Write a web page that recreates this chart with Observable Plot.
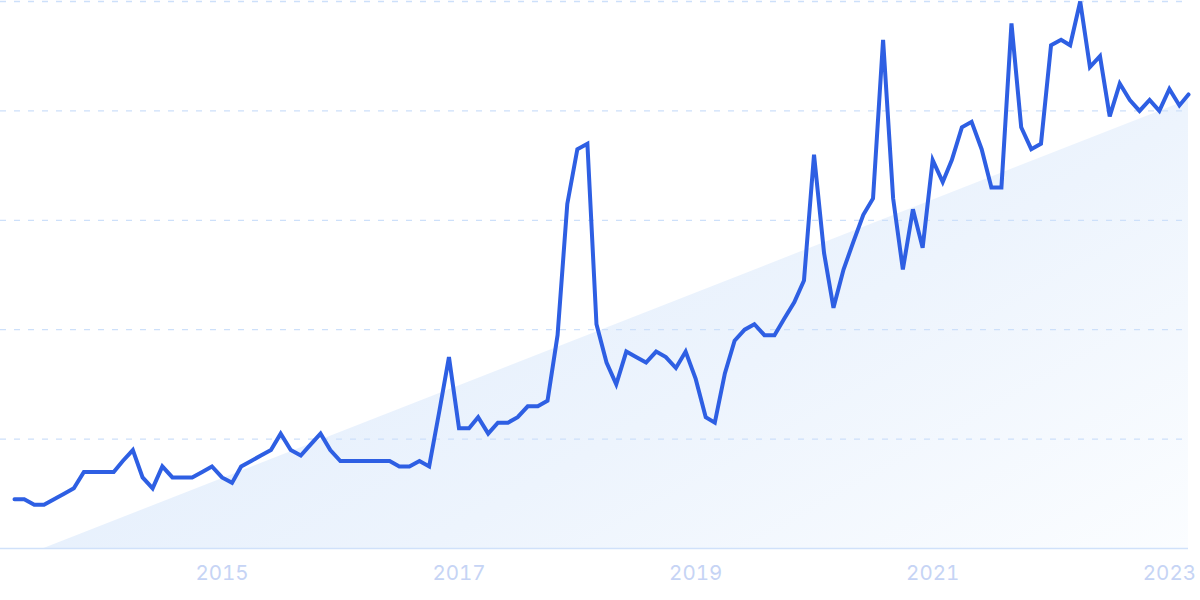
<!DOCTYPE html>
<html>
<head>
<meta charset="utf-8">
<script src="https://cdn.jsdelivr.net/npm/d3@7"></script>
<script src="https://cdn.jsdelivr.net/npm/@observablehq/plot@0.6"></script>
<style>
  html, body { margin: 0; padding: 0; background: #ffffff; }
  #chart { width: 1200px; height: 600px; overflow: hidden; }
</style>
</head>
<body>
<div id="chart"></div>
<script>
// Monthly interest, April 2013 – March 2023 (index 0–100)
const firstMonth = "2013-04-01";
const values = [
  9, 9, 8, 8, 9, 10, 11, 14, 14, 14, 14, 16, 18, 13, 11, 15, 13, 13, 13, 14,
  15, 13, 12, 15, 16, 17, 18, 21, 18, 17, 19, 21, 18, 16, 16, 16, 16, 16, 16, 15,
  15, 16, 15, 25, 35, 22, 22, 24, 21, 23, 23, 24, 26, 26, 27, 39, 63, 73, 74, 41,
  34, 30, 36, 35, 34, 36, 35, 33, 36, 31, 24, 23, 32, 38, 40, 41, 39, 39, 42, 45,
  49, 72, 54, 44, 51, 56, 61, 64, 93, 64, 51, 62, 55, 71, 67, 71, 77, 78, 73, 66,
  66, 96, 77, 73, 74, 92, 93, 92, 100, 88, 90, 79, 85, 82, 80, 82, 80, 84, 81, 83
];
const tickYears = ["2015-01-01", "2017-01-01", "2019-01-01", "2021-01-01", "2023-01-01"];
const gridValues = [20, 40, 60, 80, 100];
// growth-trend wedge behind the line
const trendDates = ["2013-07-01", "2023-03-01"];
const trendValues = [0, 82];

const start = new Date(firstMonth + "T00:00:00Z");
const months = values.map((_, i) => d3.utcMonth.offset(start, i));
const data = values.map((v, i) => ({date: months[i], value: v}));
const trend = trendDates.map((d, i) => ({date: new Date(d + "T00:00:00Z"), value: trendValues[i]}));
const ticks = tickYears.map(d => new Date(d + "T00:00:00Z"));

const chart = Plot.plot({
  width: 1200,
  height: 600,
  marginTop: 1,
  marginBottom: 52,
  marginLeft: 14,
  marginRight: 12,
  style: {fontFamily: "Inter, 'Noto Sans', sans-serif", fontSize: "20.5px", color: "#c6d4f5", background: "#ffffff"},
  x: {type: "utc", domain: [months[0], months[months.length - 1]], ticks, tickFormat: d3.utcFormat("%Y"), tickSize: 0, tickPadding: 17, label: null},
  y: {domain: [0, 100], axis: null},
  marks: [
    Plot.areaY(trend, {x: "date", y: "value", fill: "url(#trendGrad)"}),
    Plot.ruleY(gridValues, {stroke: "#cde0fa", strokeWidth: 1.3, strokeDasharray: "6,8", insetLeft: -14}),
    Plot.ruleY([0], {stroke: "#d0e1fa", strokeWidth: 1.5, insetLeft: -14}),
    Plot.line(data, {x: "date", y: "value", stroke: "#2e5fe3", strokeWidth: 4, strokeLinejoin: "miter", strokeMiterlimit: 4, curve: "linear"})
  ]
});

const svg = d3.select(chart);
const defs = svg.insert("defs", ":first-child");
const grad = defs.append("linearGradient")
  .attr("id", "trendGrad")
  .attr("x1", "0").attr("y1", "0.3").attr("x2", "1").attr("y2", "1");
grad.append("stop").attr("offset", "0").attr("stop-color", "#e0ecfc");
grad.append("stop").attr("offset", "0.55").attr("stop-color", "#edf4fd");
grad.append("stop").attr("offset", "1").attr("stop-color", "#fbfdff");

document.getElementById("chart").appendChild(chart);
</script>
</body>
</html>
